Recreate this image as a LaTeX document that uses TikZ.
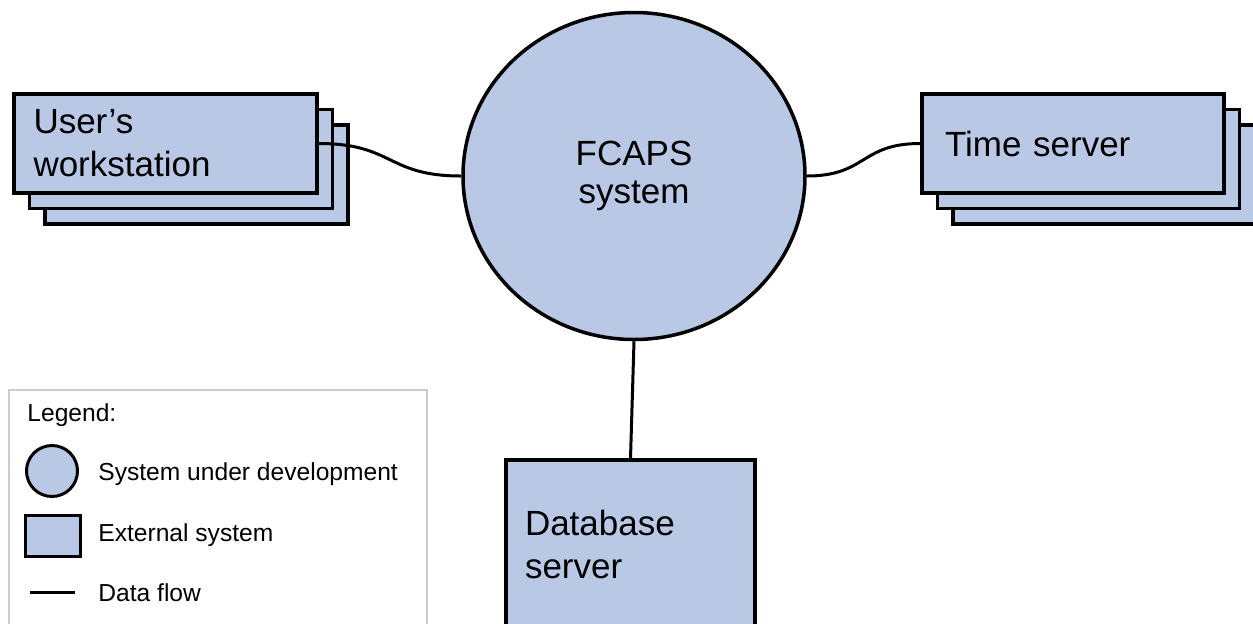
\documentclass[tikz,border=0pt]{standalone}
\usepackage{fontspec}
\setmainfont{Liberation Sans}
\usetikzlibrary{positioning, shadows, shapes.geometric}
\definecolor{sysblue}{RGB}{185,200,229}

\tikzset{
  extbox/.style={draw, line width=1.75pt, fill=sysblue, align=left, inner ysep=0pt,
    font=\fontsize{17.5}{21.5}\selectfont},
  stacked/.style={
    copy shadow={shadow xshift=15.5pt, shadow yshift=-15.5pt, fill=sysblue, draw, line width=1.75pt},
    copy shadow={shadow xshift=7.75pt, shadow yshift=-7.75pt, fill=sysblue, draw, line width=1.75pt}},
  sysnode/.style={ellipse, draw, line width=1.75pt, fill=sysblue, align=center,
    font=\fontsize{17.5}{19}\selectfont},
  flow/.style={line width=1.5pt},
  legendtext/.style={anchor=base west, inner sep=0pt, font=\fontsize{12.3}{14}\selectfont}
}

\begin{document}
\begin{tikzpicture}[x=0.5pt, y=-0.5pt]
\useasboundingbox (0,0) rectangle (1253,623);
% the system and its neighbours
\node[sysnode, minimum width=171pt, minimum height=163.5pt] (fcaps) at (634,176) {FCAPS\\system};
\node[extbox, stacked, minimum height=49.5pt, inner xsep=9.75pt, text width=132pt] (ws) at (165.5,143.5) {User's\\workstation};
\node[extbox, stacked, minimum height=49.5pt, inner xsep=11.5pt, text width=128pt] (ts) at (1073,143.5) {Time server};
\node[extbox, minimum height=84pt, inner xsep=9.5pt, text width=105.5pt] (db) at (630.5,544) {Database\\server};

% data flows
\draw[flow] (ws.east) .. controls +(75,0) and +(-75,0) .. (fcaps.west);
\draw[flow] (fcaps.east) .. controls +(60,0) and +(-60,0) .. (ts.west);
\draw[flow] (fcaps.south) -- (db.north);

% legend
\node[draw=black!20, line width=0.75pt, anchor=north west, minimum width=209pt, minimum height=130pt] (legend) at (8,389) {};
\node[legendtext] (legtitle) at (27,421) {Legend:};
\node[circle, draw, line width=1.5pt, fill=sysblue, minimum size=25.5pt, inner sep=0pt] (legcircle) at (52,471) {};
\node[legendtext] (legsys) at (98,480) {System under development};
\node[draw, line width=1.5pt, fill=sysblue, minimum width=27.5pt, minimum height=20.5pt, inner sep=0pt] (legbox) at (52.5,535.5) {};
\node[legendtext] (legext) at (98,541) {External system};
\coordinate (flowa) at (30,592);
\coordinate (flowb) at (75,592);
\draw[flow] (flowa) -- (flowb);
\node[legendtext] (legflow) at (98,601) {Data flow};
\end{tikzpicture}
\end{document}
